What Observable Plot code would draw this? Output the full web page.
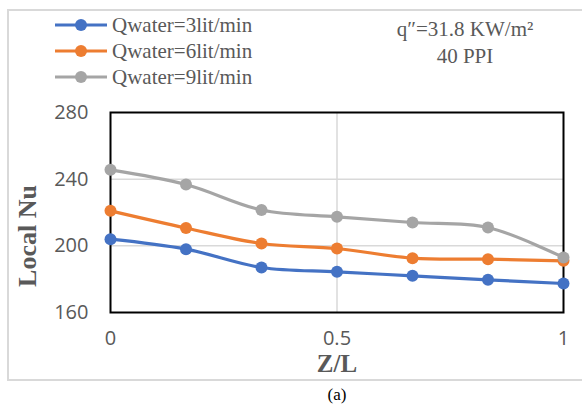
<!DOCTYPE html>
<html>
<head>
<meta charset="utf-8">
<script src="https://cdn.jsdelivr.net/npm/d3@7"></script>
<script src="https://cdn.jsdelivr.net/npm/@observablehq/plot@0.6"></script>
<style>
  html, body { margin: 0; padding: 0; background: #fff; }
  #wrap { position: relative; width: 582px; height: 406px; overflow: hidden; }
  #box { position: absolute; left: 7px; top: 9px; width: 590px; height: 372px; border: 2px solid #d9d9d9; box-sizing: border-box; }
  .serif { font-family: "Liberation Serif", "DejaVu Serif", serif; color: #595959; position: absolute; white-space: nowrap; }
  .legend-row { position: absolute; left: 54px; height: 24px; display: flex; align-items: center; }
  .legend-row span { font-family: "Liberation Serif", serif; font-size: 21px; color: #595959; margin-left: 4px; }
  #plot { position: absolute; left: 0; top: 0; }
</style>
</head>
<body>
<div id="wrap">
  <div id="box"></div>
  <div id="plot"></div>
  <div id="legend"></div>
  <div class="serif" style="left:465px; top:17px; transform:translateX(-50%); font-size:21px;">q″=31.8 KW/m²</div>
  <div class="serif" style="left:465px; top:44px; transform:translateX(-50%); font-size:21px;">40 PPI</div>
  <div class="serif" style="left:337px; top:350px; transform:translateX(-50%); font-size:25px; font-weight:bold;">Z/L</div>
  <div class="serif" style="left:28px; top:236px; transform:translate(-50%,-50%) rotate(-90deg); font-size:26px; font-weight:bold;">Local Nu</div>
  <div class="serif" style="left:337px; top:385px; transform:translateX(-50%); font-size:17px; color:#000;">(a)</div>
</div>
<script>
// Axial position (Z/L) and local Nusselt number for three water flow rates
const zl = [0, 1/6, 2/6, 0.5, 4/6, 5/6, 1];
const nu3 = [204, 198, 187, 184.4, 182, 179.6, 177.4];
const nu6 = [221, 210.7, 201.4, 198.4, 192.6, 192, 191];
const nu9 = [245.6, 236.8, 221.5, 217.4, 214, 211, 193];
const seriesNames = ["Qwater=3lit/min", "Qwater=6lit/min", "Qwater=9lit/min"];
const seriesColors = ["#4472C4", "#ED7D31", "#A5A5A5"];
const xTicks = [0, 0.5, 1];
const yTicks = [160, 200, 240, 280];

const series = [nu3, nu6, nu9].map((vals, i) =>
  zl.map((z, j) => ({z, nu: vals[j], name: seriesNames[i]}))
);

const marks = [
  Plot.gridY([200, 240], {stroke: "#d9d9d9", strokeOpacity: 1, strokeWidth: 1.5}),
  Plot.gridX([0.5], {stroke: "#d9d9d9", strokeOpacity: 1, strokeWidth: 1.5}),
  Plot.frame({stroke: "#000", strokeWidth: 2}),
  Plot.axisX(xTicks, {tickSize: 0, tickPadding: 18, tickFormat: d => String(d), label: null}),
  Plot.axisY(yTicks, {tickSize: 0, tickPadding: 22, label: null})
];
series.forEach((data, i) => {
  marks.push(Plot.line(data, {x: "z", y: "nu", stroke: seriesColors[i], strokeWidth: 3.2, curve: "catmull-rom"}));
  marks.push(Plot.dot(data, {x: "z", y: "nu", fill: seriesColors[i], r: 6}));
});

const chart = Plot.plot({
  width: 582,
  height: 406,
  marginLeft: 110,
  marginRight: 19,
  marginTop: 112,
  marginBottom: 94,
  x: {domain: [0, 1]},
  y: {domain: [160, 280]},
  style: {fontFamily: "'Open Sans', sans-serif", fontSize: "20px", color: "#595959", background: "transparent", overflow: "visible"},
  marks
});
document.getElementById("plot").appendChild(chart);

// Legend
const legend = document.getElementById("legend");
seriesNames.forEach((name, i) => {
  const row = document.createElement("div");
  row.className = "legend-row";
  row.style.top = (13 + i * 26) + "px";
  row.innerHTML = `<svg width="54" height="24"><line x1="1" x2="53" y1="12" y2="12" stroke="${seriesColors[i]}" stroke-width="3.2"/><circle cx="27" cy="12" r="6" fill="${seriesColors[i]}"/></svg><span>${name}</span>`;
  legend.appendChild(row);
});
</script>
</body>
</html>
